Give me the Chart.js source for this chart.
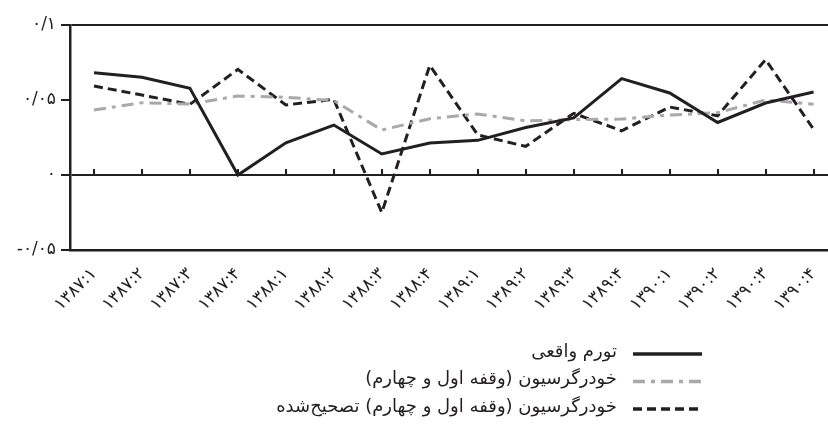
<!DOCTYPE html>
<html>
<head>
<meta charset="utf-8">
<script src="https://cdn.jsdelivr.net/npm/chart.js@4"></script>
<style>
  html, body { margin: 0; padding: 0; background: #fff; overflow: hidden; width: 828px; height: 430px; }
  #wrap { width: 842px; height: 430px; position: relative; }
</style>
</head>
<body>
<div id="wrap"><canvas id="c"></canvas></div>
<script>
// ---- data ----
const categories = ['۱۳۸۷:۱','۱۳۸۷:۲','۱۳۸۷:۳','۱۳۸۷:۴','۱۳۸۸:۱','۱۳۸۸:۲','۱۳۸۸:۳','۱۳۸۸:۴',
                    '۱۳۸۹:۱','۱۳۸۹:۲','۱۳۸۹:۳','۱۳۸۹:۴','۱۳۹۰:۱','۱۳۹۰:۲','۱۳۹۰:۳','۱۳۹۰:۴'];
const actualInflation = [0.0682, 0.0651, 0.0578, 0.0000, 0.0215, 0.0333, 0.0140, 0.0213,
                         0.0231, 0.0317, 0.0381, 0.0643, 0.0547, 0.0350, 0.0480, 0.0553];
const arForecast      = [0.0433, 0.0482, 0.0473, 0.0527, 0.0518, 0.0496, 0.0300, 0.0375,
                         0.0407, 0.0361, 0.0369, 0.0373, 0.0400, 0.0415, 0.0500, 0.0472];
const arCorrected     = [0.0593, 0.0533, 0.0471, 0.0704, 0.0467, 0.0504, -0.0251, 0.0731,
                         0.0267, 0.0191, 0.0411, 0.0295, 0.0453, 0.0395, 0.0769, 0.0305];
const seriesNames = ['تورم واقعی', 'خودرگرسیون (وقفه اول و چهارم)', 'خودرگرسیون (وقفه اول و چهارم) تصحیح‌شده'];
const yTickValues = [-0.05, 0, 0.05, 0.1];
const yTickLabels = ['-۰/۰۵', '۰', '۰/۰۵', '۰/۱'];

const INK = '#231f20';
const GRAY = '#a7a9ac';
const FONT = '"DejaVu Sans", sans-serif';

const zeroTicks = {
  id: 'zeroTicks',
  beforeDatasetsDraw(chart) {
    const {ctx, scales: {x, y}} = chart;
    const y0 = y.getPixelForValue(0);
    ctx.save();
    ctx.strokeStyle = INK;
    ctx.lineWidth = 2;
    categories.forEach((c, i) => {
      const px = Math.round(x.getPixelForValue(i));
      ctx.beginPath();
      ctx.moveTo(px, y0);
      ctx.lineTo(px, y0 - 6);
      ctx.stroke();
    });
    ctx.restore();
  }
};

const stackedLegend = {
  id: 'stackedLegend',
  afterDraw(chart) {
    const {ctx} = chart;
    const x1 = 633, x2 = 702, textX = 617, top = 354, step = 27.5;
    ctx.save();
    chart.data.datasets.forEach((ds, i) => {
      const yy = top + i * step;
      ctx.beginPath();
      ctx.setLineDash(ds.borderDash || []);
      ctx.lineCap = 'butt';
      ctx.strokeStyle = ds.borderColor;
      ctx.lineWidth = 3.5;
      ctx.moveTo(x1, yy);
      ctx.lineTo(x2, yy);
      ctx.stroke();
      ctx.setLineDash([]);
      ctx.fillStyle = INK;
      ctx.font = '18px ' + FONT;
      ctx.direction = 'rtl';
      ctx.textAlign = 'right';
      ctx.textBaseline = 'middle';
      ctx.fillText(ds.label, textX, yy - 2);
    });
    ctx.restore();
  }
};

new Chart(document.getElementById('c'), {
  type: 'line',
  data: {
    labels: categories,
    datasets: [
      { label: seriesNames[0], data: actualInflation, borderColor: INK, borderWidth: 3,
        pointRadius: 0, tension: 0, fill: false },
      { label: seriesNames[1], data: arForecast, borderColor: GRAY, borderWidth: 3,
        borderDash: [12, 6, 4, 6], pointRadius: 0, tension: 0, fill: false },
      { label: seriesNames[2], data: arCorrected, borderColor: INK, borderWidth: 3,
        borderDash: [9, 5], pointRadius: 0, tension: 0, fill: false }
    ]
  },
  options: {
    responsive: true,
    maintainAspectRatio: false,
    animation: false,
    devicePixelRatio: 1,
    layout: { padding: { top: 25, right: 0, left: 0, bottom: 0 } },
    plugins: { legend: { display: false }, tooltip: { enabled: false } },
    scales: {
      x: {
        offset: true,
        grid: { display: false, drawTicks: false },
        border: { display: true, color: INK, width: 2.5 },
        ticks: {
          color: INK, font: { family: FONT, size: 17 },
          minRotation: 45, maxRotation: 45, padding: 14, autoSkip: false
        },
        afterFit(scale) { scale.height = 180; }
      },
      y: {
        min: -0.05, max: 0.1,
        afterBuildTicks(scale) { scale.ticks = yTickValues.map(v => ({ value: v })); },
        grid: {
          color: (c) => (c.tick && (Math.abs(c.tick.value) < 1e-9 || Math.abs(c.tick.value - 0.1) < 1e-9)) ? INK : 'rgba(0,0,0,0)',
          tickColor: INK,
          lineWidth: 2,
          tickLength: 9
        },
        border: { display: true, color: INK, width: 2.5 },
        ticks: {
          color: INK, font: { family: FONT, size: 17 }, padding: 5,
          callback(v) {
            const i = yTickValues.findIndex(t => Math.abs(t - v) < 1e-9);
            return i >= 0 ? yTickLabels[i] : '';
          }
        },
        afterFit(scale) { scale.width = 70; }
      }
    }
  },
  plugins: [zeroTicks, stackedLegend]
});
</script>
</body>
</html>
